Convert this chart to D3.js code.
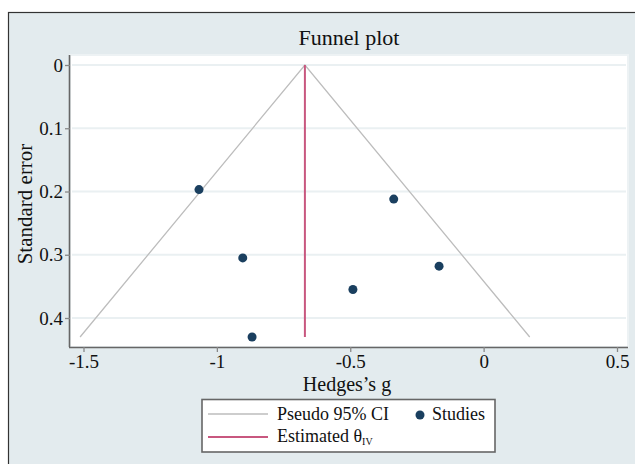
<!DOCTYPE html>
<html lang="en">
<head>
<meta charset="UTF-8">
<title>Funnel plot</title>
<style>
  body, html { margin: 0; padding: 0; background: #ffffff; }
  text { font-family: "Liberation Serif", "DejaVu Serif", serif; fill: #111; }
</style>
</head>
<body>
<svg id="svg" width="635" height="464"></svg>
<script src="https://d3js.org/d3.v7.min.js"></script>
<script>
// data
const theta = -0.67
const seMax = 0.43
const studyG = [-1.067, -0.337, -0.903, -0.868, -0.49, -0.167]
const studySE = [0.197, 0.212, 0.305, 0.43, 0.355, 0.318]
const xTicks = [-1.5, -1, -0.5, 0, 0.5]
const yTicks = [0, 0.1, 0.2, 0.3, 0.4]

const svg = d3.select('#svg')

// outer graph region
svg.append('rect')
  .attr('x', 8.5).attr('y', 12.5)
  .attr('width', 640).attr('height', 470)
  .attr('fill', '#e3ebee')
  .attr('stroke', '#333').attr('stroke-width', 1.2)

const pLeft = 70, pRight = 628, pTop = 55, pBottom = 347

const x = d3.scaleLinear().domain([-1.5, 0.5]).range([83.5, 617])
const y = d3.scaleLinear().domain([0, 0.4]).range([65, 318])

svg.append('rect')
  .attr('x', pLeft).attr('y', pTop)
  .attr('width', pRight - pLeft).attr('height', pBottom - pTop)
  .attr('fill', '#ffffff')
  .attr('stroke', '#edf2f4').attr('stroke-width', 2)

// grid
svg.append('g')
  .selectAll('line')
  .data(yTicks)
  .enter()
  .append('line')
  .attr('x1', pLeft + 2).attr('x2', pRight - 2)
  .attr('y1', d => y(d)).attr('y2', d => y(d))
  .attr('stroke', '#eaf0f2').attr('stroke-width', 2)

// axes
const yAxis = d3.axisLeft(y).tickValues(yTicks).tickSize(5).tickPadding(2)
  .tickFormat(d => d === 0 ? '0' : d3.format('.1f')(d))
svg.append('g')
  .attr('transform', `translate(${pLeft},0)`)
  .call(yAxis)
  .call(g => g.select('.domain').attr('d', `M-0.5,${pTop}V${pBottom}`).attr('stroke', '#666').attr('stroke-width', 1.6))
  .call(g => g.selectAll('.tick line').attr('stroke', '#888').attr('stroke-width', 1.3))
  .call(g => g.selectAll('.tick text').attr('font-size', 19).attr('font-family', 'Liberation Serif').attr('fill', '#111'))

const xAxis = d3.axisBottom(x).tickValues(xTicks).tickSize(5).tickPadding(3)
  .tickFormat(d => String(d))
svg.append('g')
  .attr('transform', `translate(0,${pBottom})`)
  .call(xAxis)
  .call(g => g.select('.domain').attr('d', `M${pLeft - 1},0.5H${pRight}`).attr('stroke', '#666').attr('stroke-width', 1.6))
  .call(g => g.selectAll('.tick line').attr('stroke', '#888').attr('stroke-width', 1.3))
  .call(g => g.selectAll('.tick text').attr('font-size', 19).attr('font-family', 'Liberation Serif').attr('fill', '#111'))

// funnel (pseudo 95% CI)
const funnel = [
  [theta - 1.96 * seMax, seMax],
  [theta, 0],
  [theta + 1.96 * seMax, seMax]
]
svg.append('path')
  .datum(funnel)
  .attr('d', d3.line().x(d => x(d[0])).y(d => y(d[1])))
  .attr('fill', 'none')
  .attr('stroke', '#bdbdbd').attr('stroke-width', 1.3)

// estimated theta
svg.append('line')
  .attr('x1', x(theta)).attr('x2', x(theta))
  .attr('y1', y(0)).attr('y2', y(seMax))
  .attr('stroke', '#c8577f').attr('stroke-width', 2)

// studies
svg.append('g')
  .selectAll('circle')
  .data(studyG)
  .enter()
  .append('circle')
  .attr('cx', d => x(d))
  .attr('cy', (d, i) => y(studySE[i]))
  .attr('r', 4.5)
  .attr('fill', '#1a3f5f')

// titles
svg.append('text')
  .attr('x', 349).attr('y', 45)
  .attr('text-anchor', 'middle')
  .attr('font-size', 22)
  .text('Funnel plot')

svg.append('text')
  .attr('transform', 'translate(32,204) rotate(-90)')
  .attr('text-anchor', 'middle')
  .attr('font-size', 21)
  .text('Standard error')

svg.append('text')
  .attr('x', 347).attr('y', 391)
  .attr('text-anchor', 'middle')
  .attr('font-size', 20)
  .text('Hedges\u2019s g')

// legend
const lg = svg.append('g')
lg.append('rect')
  .attr('x', 202).attr('y', 399.5)
  .attr('width', 293).attr('height', 52.5)
  .attr('fill', '#ffffff')
  .attr('stroke', '#666').attr('stroke-width', 1.6)
lg.append('line')
  .attr('x1', 208).attr('x2', 268).attr('y1', 414).attr('y2', 414)
  .attr('stroke', '#bdbdbd').attr('stroke-width', 1.3)
lg.append('text')
  .attr('x', 277).attr('y', 420).attr('font-size', 18)
  .text('Pseudo 95% CI')
lg.append('circle')
  .attr('cx', 420).attr('cy', 415).attr('r', 4.5)
  .attr('fill', '#1a3f5f')
lg.append('text')
  .attr('x', 432).attr('y', 420).attr('font-size', 18)
  .text('Studies')
lg.append('line')
  .attr('x1', 208).attr('x2', 268).attr('y1', 437).attr('y2', 437)
  .attr('stroke', '#c8577f').attr('stroke-width', 2)
const t2 = lg.append('text')
  .attr('x', 277).attr('y', 442).attr('font-size', 18)
t2.append('tspan').text('Estimated \u03b8')
t2.append('tspan').attr('font-size', 10).attr('dy', 3).text('IV')
</script>
</body>
</html>
